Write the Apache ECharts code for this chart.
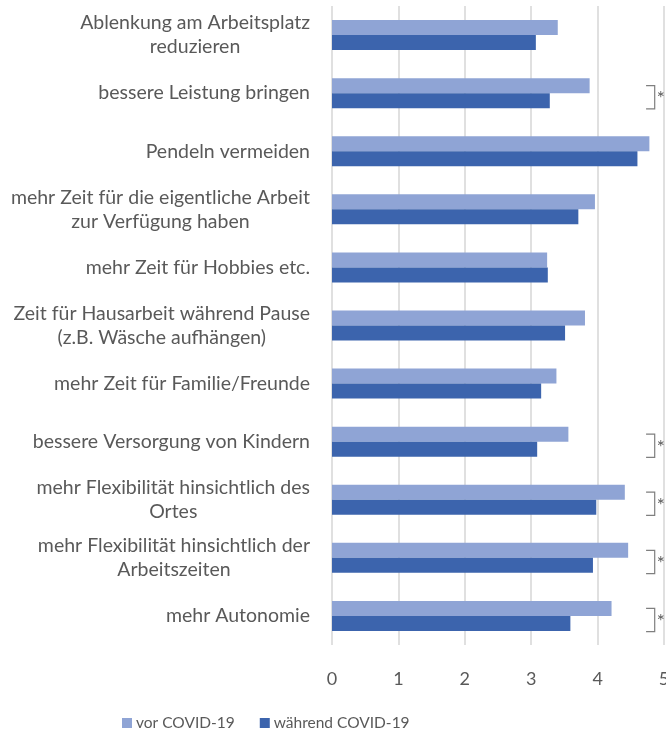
<!DOCTYPE html>
<html><head><meta charset="utf-8">
<script src="https://cdn.jsdelivr.net/npm/echarts@6/dist/echarts.min.js"></script>
<style>html,body{margin:0;padding:0;background:#fff}#c{width:666px;height:733px}</style>
</head><body><div id="c"></div>
<script>
const categories = [
  "Ablenkung am Arbeitsplatz\nreduzieren",
  "bessere Leistung bringen",
  "Pendeln vermeiden",
  "mehr Zeit für die eigentliche Arbeit\nzur Verfügung haben",
  "mehr Zeit für Hobbies etc.",
  "Zeit für Hausarbeit während Pause\n(z.B. Wäsche aufhängen)",
  "mehr Zeit für Familie/Freunde",
  "bessere Versorgung von Kindern",
  "mehr Flexibilität hinsichtlich des\nOrtes",
  "mehr Flexibilität hinsichtlich der\nArbeitszeiten",
  "mehr Autonomie"
];
const vorCovid      = [3.40, 3.88, 4.78, 3.96, 3.24, 3.81, 3.38, 3.56, 4.41, 4.46, 4.21];
const waehrendCovid = [3.07, 3.28, 4.60, 3.71, 3.25, 3.51, 3.15, 3.09, 3.98, 3.93, 3.59];
const significant = [1, 7, 8, 9, 10];   // category indices marked with *
const xTicks = [0, 1, 2, 3, 4, 5];

const FONT = 'Lato';
const TXT = '#595959';
const chart = echarts.init(document.getElementById('c'));
chart.setOption({
  animation: false,
  grid: { left: 332, right: 2, top: 6, bottom: 88, containLabel: false, outerBoundsMode: 'none' },
  xAxis: {
    type: 'value', min: xTicks[0], max: xTicks[xTicks.length - 1], interval: 1,
    axisLine: { show: false }, axisTick: { show: false },
    splitLine: { show: true, lineStyle: { color: '#d9d9d9', width: 1.6 } },
    axisLabel: { margin: 25, color: TXT, fontSize: 18, fontFamily: FONT }
  },
  yAxis: {
    type: 'category', data: categories, inverse: true,
    axisLine: { show: false }, axisTick: { show: false },
    axisLabel: {
      interval: 0, margin: 22, align: 'right', color: TXT, fontSize: 19.5, fontFamily: FONT,
      formatter: v => v.split('\n').map(s => '{c|' + s + '}').join('\n'),
      rich: { c: { align: 'center', color: TXT, fontSize: 19.5, fontFamily: FONT, lineHeight: 24 } }
    }
  },
  legend: {
    left: 117, top: 710, icon: 'rect', itemWidth: 10, itemHeight: 10, itemGap: 25,
    textStyle: { color: TXT, fontSize: 15.5, fontFamily: FONT, padding: [0, 0, 0, -1] },
    data: ['vor COVID-19', 'während COVID-19']
  },
  series: [
    { name: 'vor COVID-19', type: 'bar', data: vorCovid, barWidth: 15, barGap: '0%',
      itemStyle: { color: '#8FA4D5' } },
    { name: 'während COVID-19', type: 'bar', data: waehrendCovid, barWidth: 15, barGap: '0%',
      itemStyle: { color: '#3C64AD' } },
    { name: 'sig', type: 'custom', clip: false, silent: true,
      data: significant.map(i => [i]), encode: { y: 0 },
      renderItem: (params, api) => {
        const idx = api.value(0);
        const band = api.size([0, 1])[1];
        const c = api.coord([4.73, idx]);
        const c2 = api.coord([4.86, idx]);
        const yc = c[1] + band * 0.07;
        const h = band * 0.2;
        return { type: 'group', children: [
          { type: 'polyline', shape: { points: [[c[0], yc - h], [c2[0], yc - h], [c2[0], yc + h], [c[0], yc + h]] },
            style: { stroke: '#7f7f7f', lineWidth: 1.2, fill: null } },
          { type: 'text', style: { x: c2[0] + 2, y: yc + 2, text: '*', fill: TXT, fontSize: 19, fontFamily: FONT,
              verticalAlign: 'middle', align: 'left' } }
        ] };
      } }
  ]
});
</script></body></html>
